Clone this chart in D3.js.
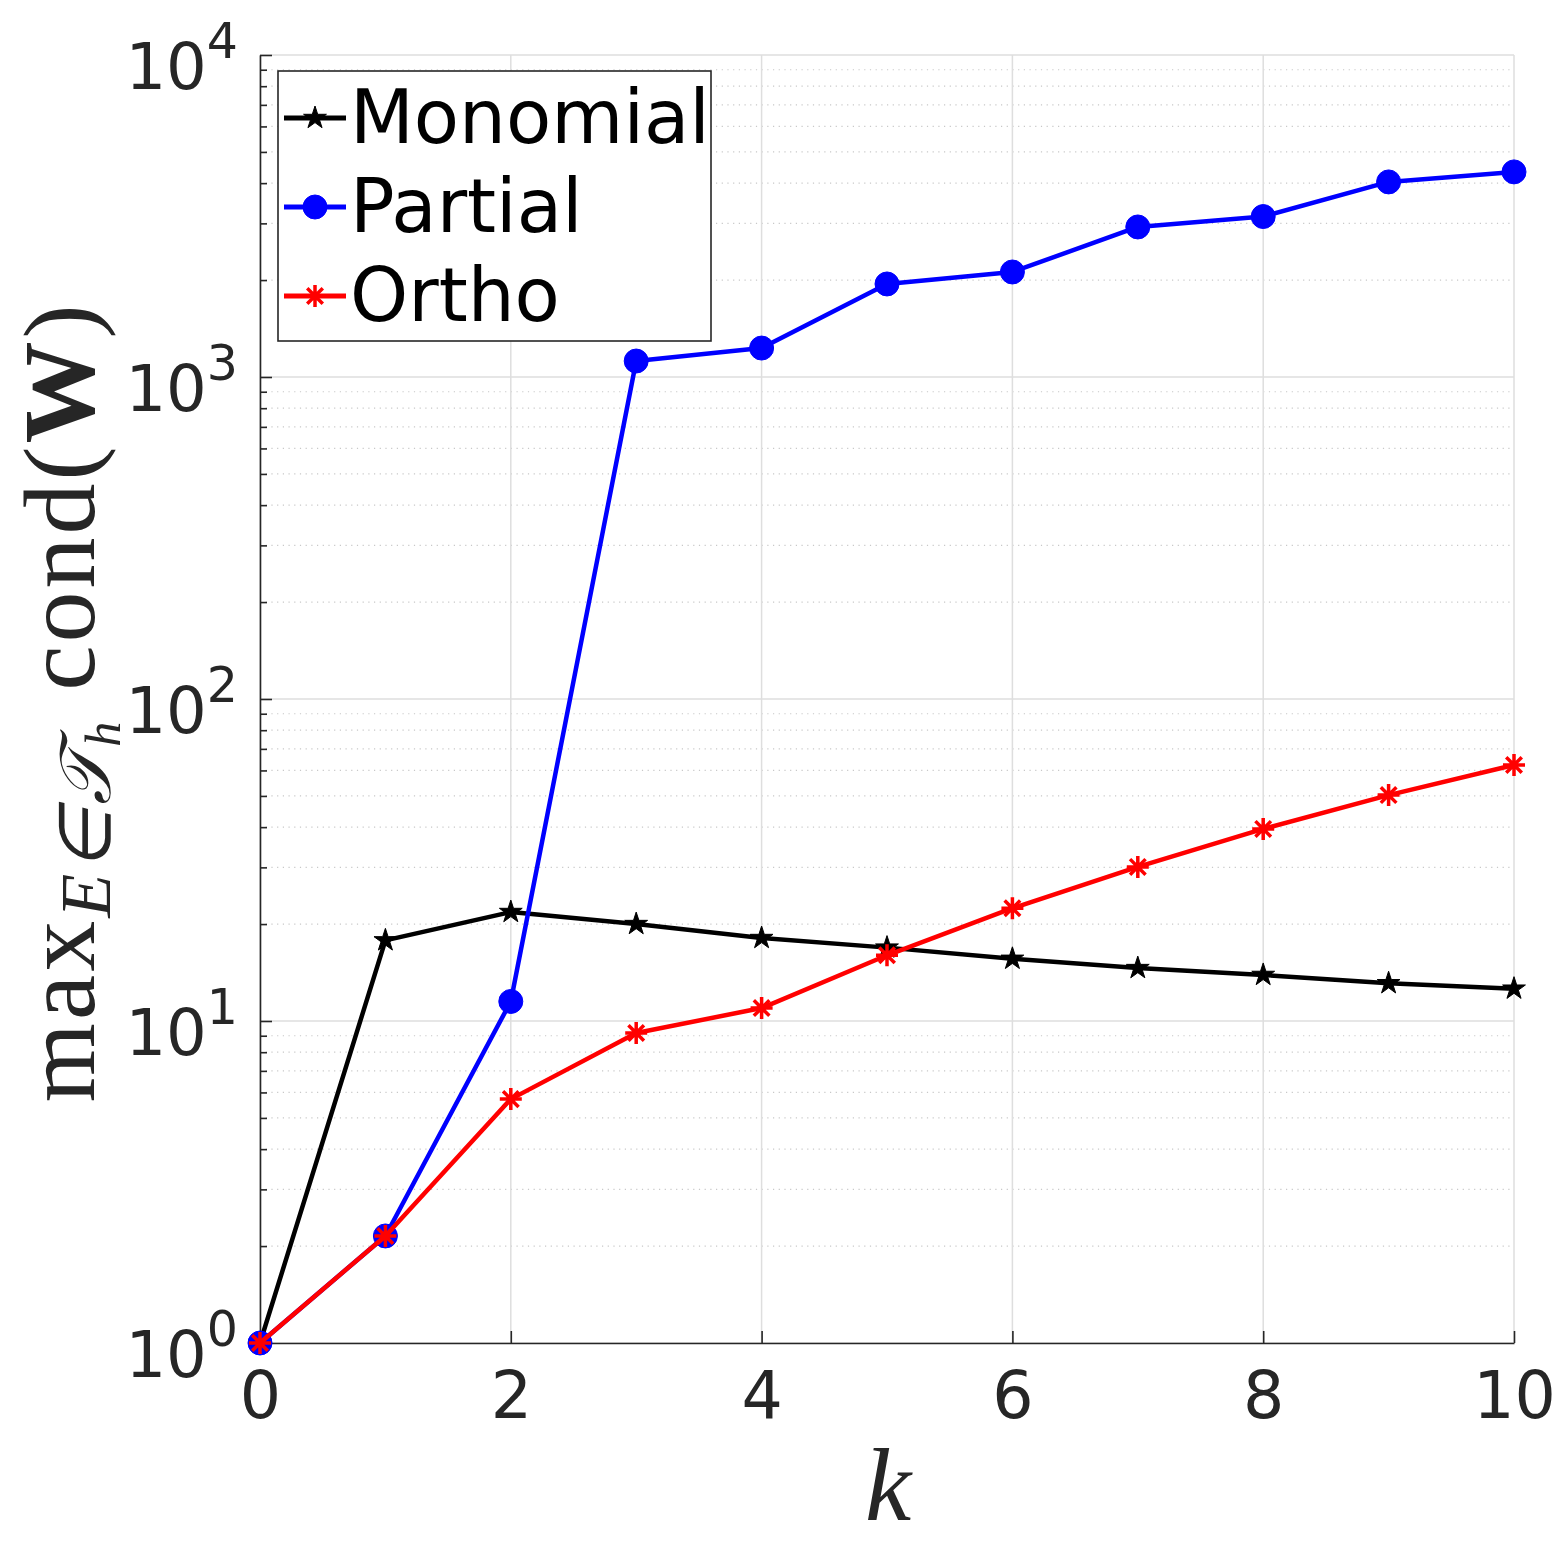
<!DOCTYPE html>
<meta charset="utf-8">
<style>
body { margin: 0; background: #fff; }
</style>
<svg width="1563" height="1563"></svg>
<script src="https://d3js.org/d3.v7.min.js"></script>
<script>

// values
var ks = [0, 1, 2, 3, 4, 5, 6, 7, 8, 9, 10];
var monomial = [1, 17.8, 21.8, 20.0, 18.1, 16.9, 15.6, 14.6, 13.9, 13.1, 12.6];
var partial = [1, 2.15, 11.5, 1121, 1230, 1945, 2119, 2924, 3150, 4035, 4335];
var ortho = [1, 2.15, 5.72, 9.18, 10.97, 16.0, 22.4, 30.1, 39.5, 50.3, 62.4];
var seriesNames = ["Monomial", "Partial", "Ortho"];
var seriesColors = ["#000000", "#0000ff", "#ff0000"];
var xTicks = [0, 2, 4, 6, 8, 10];
var yExponents = [0, 1, 2, 3, 4];

var svg = d3.select("svg");
svg.append("rect").attr("width", 1563).attr("height", 1563).attr("fill", "#fff");

var x = d3.scaleLinear().domain([0, 10]).range([260, 1514]);
var y = d3.scaleLog().domain([1, 1e4]).range([1343, 55]);

var majorY = yExponents.map(function(e) { return Math.pow(10, e); });
var minorY = [];
yExponents.slice(0, -1).forEach(function(e) {
  for (var m = 2; m <= 9; m++) minorY.push(m * Math.pow(10, e));
});

// grid
var grid = svg.append("g");
grid.selectAll(".minor").data(minorY).enter().append("line")
    .attr("x1", x(0)).attr("x2", x(10))
    .attr("y1", function(d) { return y(d); }).attr("y2", function(d) { return y(d); })
    .attr("stroke", "#c8c8c8").attr("stroke-width", 1.2)
    .attr("stroke-dasharray", "1.2,4.5");
grid.selectAll(".majory").data(majorY).enter().append("line")
    .attr("x1", x(0)).attr("x2", x(10))
    .attr("y1", function(d) { return y(d); }).attr("y2", function(d) { return y(d); })
    .attr("stroke", "#dedede").attr("stroke-width", 1.5);
grid.selectAll(".majorx").data(xTicks).enter().append("line")
    .attr("y1", y(1)).attr("y2", y(1e4))
    .attr("x1", function(d) { return x(d); }).attr("x2", function(d) { return x(d); })
    .attr("stroke", "#dedede").attr("stroke-width", 1.5);

// axes
var axisColor = "#262626";

var yAxis = svg.append("g").attr("transform", "translate(" + x(0) + ",0)")
    .call(d3.axisLeft(y).tickValues(majorY).tickSizeInner(-12).tickSizeOuter(0).tickPadding(22));
yAxis.selectAll("text").each(function(d) {
  var t = d3.select(this);
  t.text(null).attr("dy", null).attr("y", 33)
   .attr("font-family", "DejaVu Sans").attr("font-size", 64).attr("fill", axisColor);
  t.append("tspan").text("10");
  t.append("tspan").attr("dy", -31).attr("font-size", 49).text(Math.round(Math.log10(d)));
});

svg.append("g").attr("transform", "translate(" + x(0) + ",0)")
    .call(d3.axisLeft(y).tickValues(minorY).tickSizeInner(-7).tickSizeOuter(0).tickFormat(""))
    .select(".domain").remove();

var xAxis = svg.append("g").attr("transform", "translate(0," + y(1) + ")")
    .call(d3.axisBottom(x).tickValues(xTicks).tickSizeInner(-12).tickSizeOuter(0).tickPadding(29));
xAxis.selectAll("text")
    .attr("font-family", "DejaVu Sans").attr("font-size", 65).attr("fill", axisColor);

svg.selectAll(".domain").attr("stroke", axisColor).attr("stroke-width", 1.6);
svg.selectAll(".tick line").attr("stroke", axisColor).attr("stroke-width", 1.6);

// markers
function starPath(R) {
  var r = R * 0.382, p = [];
  for (var i = 0; i < 10; i++) {
    var a = -Math.PI / 2 + i * Math.PI / 5, rr = i % 2 ? r : R;
    p.push([rr * Math.cos(a), rr * Math.sin(a)]);
  }
  return "M" + p.map(function(q) { return q[0].toFixed(2) + "," + q[1].toFixed(2); }).join("L") + "Z";
}
function asteriskPath(h) {
  var d = h * 0.7071;
  return "M0," + (-h) + "V" + h + "M" + (-h) + ",0H" + h +
         "M" + (-d) + "," + (-d) + "L" + d + "," + d + "M" + (-d) + "," + d + "L" + d + "," + (-d);
}

function drawMarker(g, i) {
  if (i === 0) {
    g.append("path").attr("d", starPath(12)).attr("fill", "#000").attr("stroke", "#000").attr("stroke-width", 1);
  } else if (i === 1) {
    g.append("circle").attr("r", 12).attr("fill", "#0000ff").attr("stroke", "#0000ff").attr("stroke-width", 1);
  } else {
    g.append("path").attr("d", asteriskPath(11)).attr("fill", "none").attr("stroke", "#ff0000").attr("stroke-width", 3.5);
  }
}

var allSeries = [monomial, partial, ortho];
var line = d3.line()
    .x(function(d, i) { return x(ks[i]); })
    .y(function(d) { return y(d); });

allSeries.forEach(function(vals, si) {
  var g = svg.append("g");
  g.append("path").datum(vals).attr("d", line)
      .attr("fill", "none").attr("stroke", seriesColors[si]).attr("stroke-width", 4.5)
      .attr("stroke-linejoin", "round");
  vals.forEach(function(v, i) {
    drawMarker(g.append("g").attr("transform", "translate(" + x(ks[i]) + "," + y(v) + ")"), si);
  });
});

// legend
var legend = svg.append("g");
legend.append("rect").attr("x", 278).attr("y", 71).attr("width", 433).attr("height", 270)
    .attr("fill", "#fff").attr("stroke", axisColor).attr("stroke-width", 1.6);
seriesNames.forEach(function(name, i) {
  var ry = 118 + i * 89;
  legend.append("line").attr("x1", 284).attr("x2", 346).attr("y1", ry).attr("y2", ry)
      .attr("stroke", seriesColors[i]).attr("stroke-width", 5);
  drawMarker(legend.append("g").attr("transform", "translate(315," + ry + ")"), i);
  legend.append("text").attr("x", 350).attr("y", ry + 25)
      .attr("font-family", "DejaVu Sans").attr("font-size", 74).attr("fill", "#000")
      .text(name);
});

// axis labels
svg.append("text").attr("x", 888).attr("y", 1520).attr("text-anchor", "middle")
    .attr("font-family", "Liberation Serif").attr("font-style", "italic")
    .attr("font-size", 104).attr("fill", axisColor).text("k");

var ylab = svg.append("text")
    .attr("transform", "translate(94,702) rotate(-90)")
    .attr("text-anchor", "middle")
    .attr("font-family", "Liberation Serif").attr("font-size", 102)
    .attr("letter-spacing", 3).attr("fill", axisColor);
ylab.append("tspan").text("max");
ylab.append("tspan").attr("dy", 16).attr("font-size", 72).attr("font-style", "italic").text("E\u2208\uD835\uDCAF");
ylab.append("tspan").attr("dy", 10).attr("font-size", 50).attr("font-style", "italic").text("h");
ylab.append("tspan").attr("dy", -26).attr("dx", 28).text("cond(");
ylab.append("tspan").attr("font-weight", "bold").text("W");
ylab.append("tspan").text(")");

</script>
